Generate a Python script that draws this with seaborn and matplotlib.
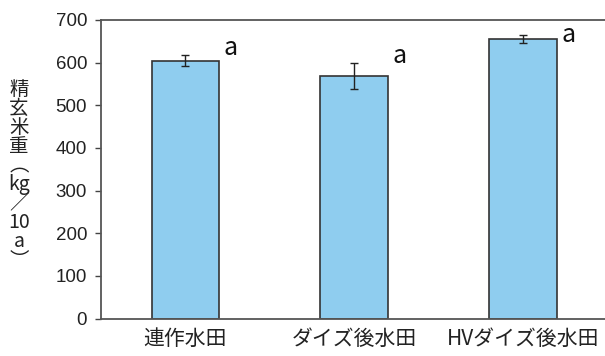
import matplotlib
matplotlib.use("Agg")
import matplotlib.pyplot as plt
import seaborn as sns
import pandas as pd

# 精玄米重 by field history (mean ± error)
categories = ["連作水田", "ダイズ後水田", "HVダイズ後水田"]
yield_kg = [605, 569, 655]
yield_err = [13, 30, 9]
letters = ["a", "a", "a"]

yticks = [0, 100, 200, 300, 400, 500, 600, 700]

sns.set_theme(style="white")
plt.rcParams["font.family"] = ["Noto Sans CJK JP", "DejaVu Sans"]

df = pd.DataFrame({"区": categories, "精玄米重": yield_kg})

fig = plt.figure(figsize=(6.05, 3.56), dpi=100)
W, H = 605, 356
left, right, top, bottom = 101, 607.5, 20, 318.5
ax = fig.add_axes([left / W, 1 - bottom / H, (right - left) / W, (bottom - top) / H])

sns.barplot(data=df, x="区", y="精玄米重", color="#8FCDEF", saturation=1,
            width=0.40, edgecolor="#333333", linewidth=1.2, errorbar=None, ax=ax)
ax.errorbar(range(len(categories)), yield_kg, yerr=yield_err, fmt="none",
            ecolor="#222222", elinewidth=1.0, capsize=2.6, capthick=1.0)

# significance letters beside each bar
for i, (v, e, s) in enumerate(zip(yield_kg, yield_err, letters)):
    ax.text(i + 0.27, min(v + e + 17, 665), s, ha="center", va="center",
            fontsize=18, color="#111111")

ax.set_xlim(-0.5, 2.5)
ax.set_ylim(0, 700)
ax.set_yticks(yticks)
ax.set_yticklabels([str(t) for t in yticks], fontsize=13.5, color="#222222",
                   family=["Liberation Sans", "DejaVu Sans"])

# category labels centred under bars, boundary ticks pointing inward
ax.set_xticks([0.5, 1.5])
ax.set_xticklabels(["", ""])
ax.set_xticks(range(len(categories)), minor=True)
ax.set_xticklabels(categories, minor=True, fontsize=15, color="#222222")
ax.tick_params(axis="x", which="major", direction="in", length=4, width=1,
               color="#444444")
ax.tick_params(axis="x", which="minor", length=0, pad=7)
ax.tick_params(axis="y", direction="out", length=4, width=1, color="#444444",
               left=True, pad=6)

ax.set_xlabel("")
ax.set_ylabel("")
for side in ["left", "bottom", "top"]:
    ax.spines[side].set_visible(True)
    ax.spines[side].set_color("#555555")
    ax.spines[side].set_linewidth(1.3)
ax.spines["right"].set_visible(False)

# vertical-writing axis title
fig.text(19 / W, 1 - 175 / H, "精\n玄\n米\n重\n︵\nkg\n／\n10\na\n︶",
         ha="center", va="center", fontsize=14, linespacing=0.88,
         color="#222222")

fig.savefig("out.png", dpi=100)
